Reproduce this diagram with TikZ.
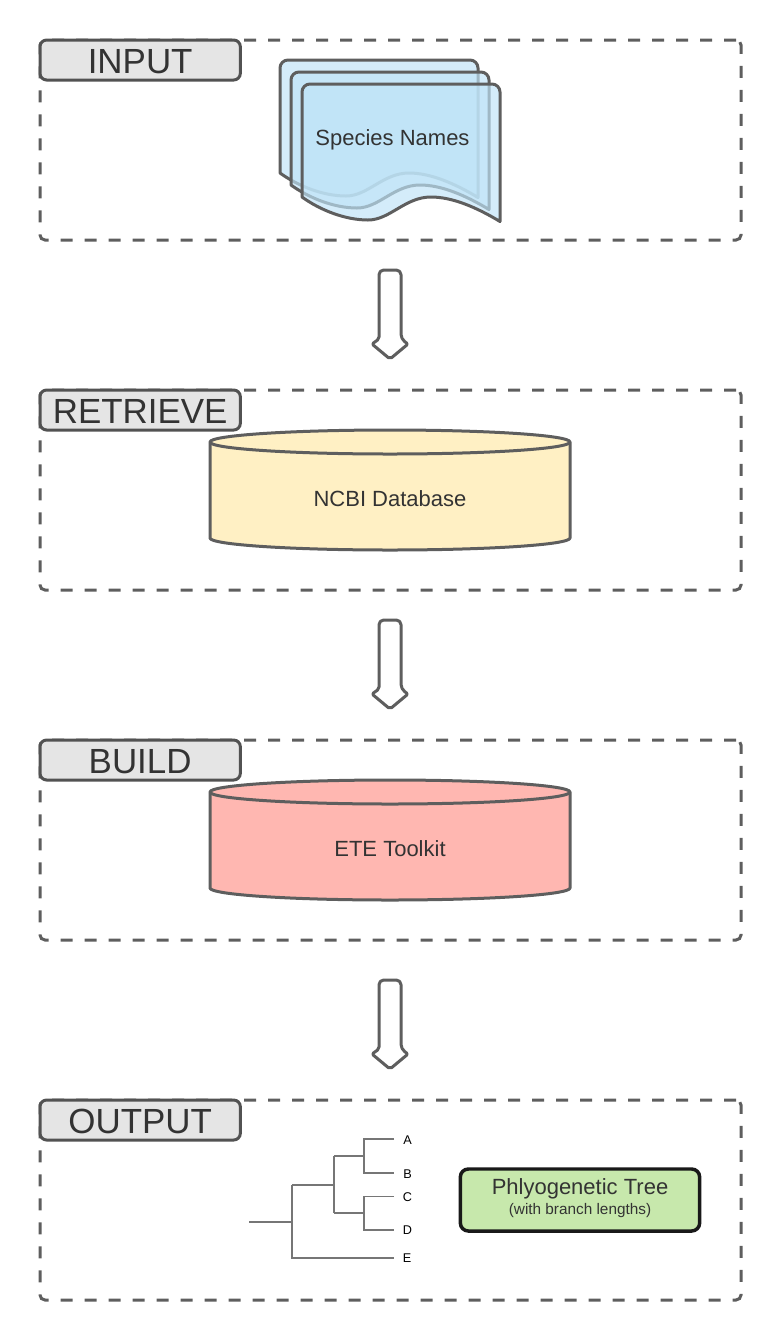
\documentclass[tikz,border=0pt]{standalone}
\usepackage{fontspec}
\setmainfont{Liberation Sans}
\definecolor{strokegrey}{HTML}{5E5E5E}
\definecolor{labelink}{HTML}{333333}
\definecolor{labelfill}{HTML}{E5E5E5}
\definecolor{sheetblue}{HTML}{BFE3F7}
\definecolor{dbyellow}{HTML}{FFF0C4}
\definecolor{dbred}{HTML}{FFB7B1}
\definecolor{treegreen}{HTML}{C7E8AC}
\tikzset{
  sectionbox/.style={draw=strokegrey,line width=2.25pt,dash pattern=on 9pt off 9pt,rounded corners=3.75pt,minimum width=525.75pt,minimum height=150pt,anchor=north west,inner sep=0pt,outer sep=0pt},
  tagbox/.style={draw=labelink!85!white,line width=2.25pt,fill=labelfill,rounded corners=5pt,minimum width=150.25pt,minimum height=30pt,anchor=north west,inner sep=0pt,outer sep=0pt,text=labelink,text height=20.2pt,text depth=0pt,font=\fontsize{26.2pt}{28pt}\selectfont},
  plainlabel/.style={text=labelink,font=\fontsize{16.5pt}{19pt}\selectfont,inner sep=0pt},
  dbshape/.style={draw=strokegrey,line width=2.25pt,line join=round},
  sheet/.style={draw=strokegrey,line width=2.25pt,fill=sheetblue,fill opacity=.68,line join=round},
  blockarrow/.style={draw=strokegrey,line width=2.25pt,fill=white,line join=round},
  branch/.style={draw=strokegrey!85!white,line width=1.2pt},
  leaf/.style={text=black,font=\fontsize{9.5pt}{11pt}\selectfont,inner sep=0pt},
  resultbox/.style={draw=black!90,line width=2.6pt,fill=treegreen,rounded corners=6pt,minimum width=179.5pt,minimum height=46.5pt,inner sep=0pt,outer sep=0pt,text=labelink,align=center}
}
\newcommand{\sheetat}[2]{%
  \path[sheet,shift={(#1,#2)}] (302,197) [rounded corners=6pt] -- (302,84) -- (500,84) [sharp corners] -- (500,221.5)
    .. controls (476,207) and (452,197) .. (431,197)
    .. controls (405,197) and (390,220) .. (368,220)
    .. controls (345,220) and (320,210) .. (302,197) -- cycle;}
\newcommand{\flowarrow}[2]{%
  \path[blockarrow,shift={(0,#2)}] (390,0) [rounded corners=3.5pt] -- (401,0) -- (401,69) [rounded corners=1.5pt] -- (408,74) -- (390,89) -- (372,74) -- (379,69) [rounded corners=3.5pt] -- (379,0) -- cycle;
  \coordinate (#1) at (390,#2);}
\newcommand{\database}[4]{%
  \path[dbshape,fill=#2] (210,#3) -- (210,#3+96) arc[start angle=180,end angle=360,x radius=135pt,y radius=9pt] -- (570,#3) arc[start angle=0,end angle=180,x radius=135pt,y radius=9pt] -- cycle;
  \path[dbshape] (210,#3) arc[start angle=180,end angle=360,x radius=135pt,y radius=9pt];
  \node[plainlabel] (#1) at (390,#3+57) {#4};}
\begin{document}
\begin{tikzpicture}[x=0.75pt,y=-0.75pt]
\useasboundingbox (0,0) rectangle (780,1340);
% section frames
\node[sectionbox] (secinput) at (40,40) {};
\node[sectionbox] (secretrieve) at (40,390) {};
\node[sectionbox] (secbuild) at (40,740) {};
\node[sectionbox] (secoutput) at (40,1100) {};
\node[tagbox] (taginput) at (40,40) {INPUT};
\node[tagbox] (tagretrieve) at (40,390) {RETRIEVE};
\node[tagbox] (tagbuild) at (40,740) {BUILD};
\node[tagbox] (tagoutput) at (40,1100) {OUTPUT};
% stacked documents
\sheetat{-22}{-24}
\sheetat{-11}{-12}
\sheetat{0}{0}
\node[plainlabel] (species) at (392.5,139.5) {Species Names};
% block arrows
\flowarrow{arrowa}{270}
\flowarrow{arrowb}{620}
\flowarrow{arrowc}{980}
% databases
\database{ncbi}{dbyellow}{442}{NCBI Database}
\database{ete}{dbred}{792}{ETE Toolkit}
% tree
\coordinate (root) at (249,1222);
\coordinate (n1) at (292,1222);
\coordinate (n3) at (364,1156);
\coordinate (n4) at (364,1213);
\node[leaf,anchor=center] (la) at (407.5,1140) {A};
\node[leaf,anchor=center] (lb) at (407.5,1174) {B};
\node[leaf,anchor=center] (lc) at (407.5,1197) {C};
\node[leaf,anchor=center] (ld) at (407.5,1230.5) {D};
\node[leaf,anchor=center] (le) at (407,1258.5) {E};
\draw[branch] (root) -- (n1);
\draw[branch] (292,1185) -- (292,1258) -- (394,1258);
\draw[branch] (292,1185) -- (334,1185);
\draw[branch] (334,1156) -- (334,1213);
\draw[branch] (334,1156) -- (n3);
\draw[branch] (334,1213) -- (n4);
\draw[branch] (394,1139) -- (364,1139) -- (364,1173) -- (394,1173);
\draw[branch] (394,1196.5) -- (364,1196.5) -- (364,1230) -- (394,1230);
% result
\node[resultbox] (result) at (580,1200) {};
\node[text=labelink,font=\fontsize{16.5pt}{19pt}\selectfont,inner sep=0pt] (resulttitle) at (580,1189) {Phlyogenetic Tree};
\node[text=labelink,font=\fontsize{11.5pt}{14pt}\selectfont,inner sep=0pt] (resultnote) at (580,1210.5) {(with branch lengths)};
\end{tikzpicture}
\end{document}
